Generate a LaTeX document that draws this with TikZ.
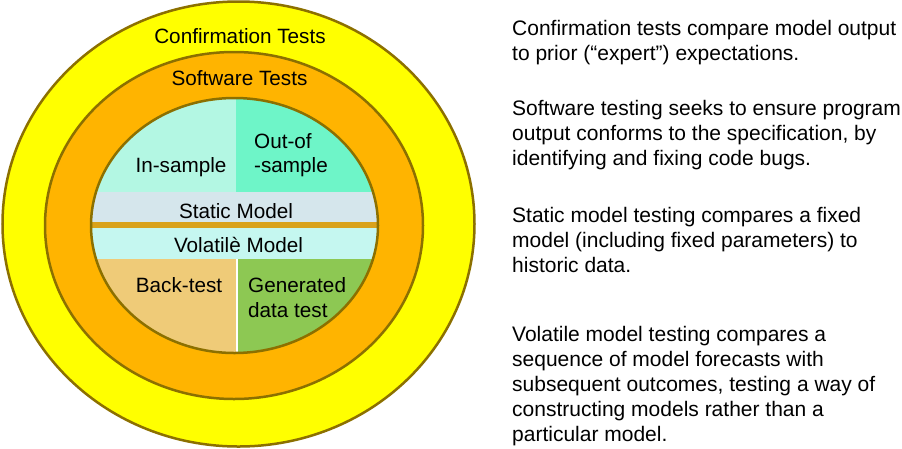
\documentclass[tikz,border=0pt]{standalone}
\usepackage{fontspec}
\setmainfont{Liberation Sans}
\definecolor{yel}{HTML}{FFFF00}
\definecolor{orng}{HTML}{FFB400}
\definecolor{rim}{HTML}{8C7000}
\definecolor{sepc}{HTML}{D9A21B}
\definecolor{insmp}{HTML}{B3F7E3}
\definecolor{outsmp}{HTML}{6EF5C8}
\definecolor{statc}{HTML}{D5E6EC}
\definecolor{volc}{HTML}{C5F7F0}
\definecolor{backc}{HTML}{EFCB78}
\definecolor{genc}{HTML}{8DC853}
\begin{document}
\begin{tikzpicture}[x=1pt,y=-1pt,
  lbl/.style={inner sep=0pt, font=\fontsize{20.7}{25}\selectfont, anchor=base},
  lbll/.style={inner sep=0pt, font=\fontsize{20.7}{25}\selectfont, anchor=base west},
  para/.style={inner sep=0pt, anchor=base west},
  ring/.style={draw=rim, line width=2.5pt}]
\useasboundingbox (0,0) rectangle (902,448);
\fill[white] (0,0) rectangle (902,448);
% rings
\draw[ring, fill=yel] (238.5,224) ellipse [x radius=236pt, y radius=222.5pt];
\draw[ring, fill=orng] (234,225.5) ellipse [x radius=189pt, y radius=173.5pt];
% inner sections
\begin{scope}
\clip (234.5,225.5) ellipse [x radius=143.5pt, y radius=127.5pt];
\fill[insmp] (80,90) rectangle (236,192);
\fill[outsmp] (236,90) rectangle (390,192);
\fill[statc] (80,192) rectangle (390,222);
\fill[sepc] (80,222) rectangle (390,227.5);
\fill[volc] (80,227.5) rectangle (390,259);
\fill[backc] (80,259) rectangle (237,360);
\fill[genc] (237,259) rectangle (390,360);
\draw[white, line width=1.5pt] (237,259) -- (237,360);
\end{scope}
\draw[ring] (234.5,225.5) ellipse [x radius=143.5pt, y radius=127.5pt];
% labels
\node[lbl] (conf) at (240,43) {Confirmation Tests};
\node[lbl] (soft) at (239.5,85) {Software Tests};
\node[lbl] (ins) at (181,172) {In-sample};
\node[lbll] (oos1) at (254,148) {Out-of};
\node[lbll] (oos2) at (254,172) {-sample};
\node[lbl] (stat) at (236,218) {Static Model};
\node[lbl] (vol) at (238.5,252) {Volatilè Model};
\node[lbl] (back) at (179,292) {Back-test};
\node[lbll] (gen1) at (248,292) {Generated};
\node[lbll] (gen2) at (248,317) {data test};
% descriptions
\node[para] (d1) at (512,35) {\parbox[t]{395pt}{\fontsize{21}{25.2}\selectfont\raggedright
Confirmation tests compare model output\\
to prior (“expert”) expectations.}};
\node[para] (d2) at (512,115) {\parbox[t]{395pt}{\fontsize{21}{25.2}\selectfont\raggedright
Software testing seeks to ensure program\\
output conforms to the specification, by\\
identifying and fixing code bugs.}};
\node[para] (d3) at (512,222.5) {\parbox[t]{395pt}{\fontsize{21}{25.2}\selectfont\raggedright
Static model testing compares a fixed\\
model (including fixed parameters) to\\
historic data.}};
\node[para] (d4) at (512,341) {\parbox[t]{395pt}{\fontsize{21}{25.2}\selectfont\raggedright
Volatile model testing compares a\\
sequence of model forecasts with\\
subsequent outcomes, testing a way of\\
constructing models rather than a\\
particular model.}};
\end{tikzpicture}
\end{document}
